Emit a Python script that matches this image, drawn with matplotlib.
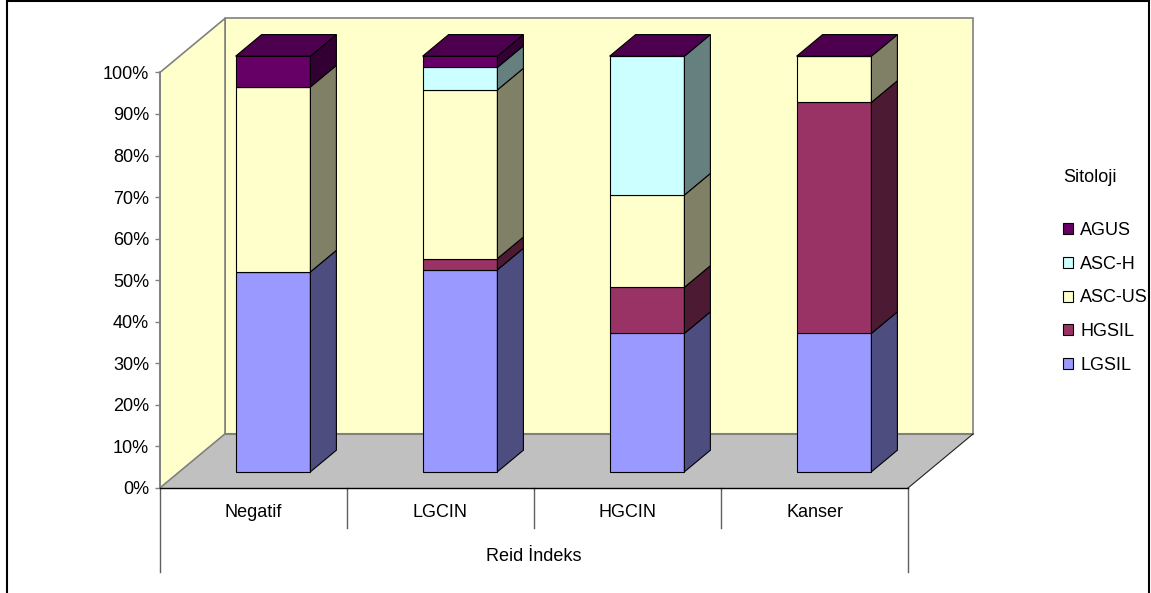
import numpy as np
import matplotlib
matplotlib.use('Agg')
import matplotlib.pyplot as plt
from matplotlib.patches import Polygon, Rectangle, Patch
from matplotlib.colors import to_rgb

plt.rcParams['font.family'] = ['Liberation Sans', 'DejaVu Sans']

categories = ['Negatif', 'LGCIN', 'HGCIN', 'Kanser']
series = ['LGSIL', 'HGSIL', 'ASC-US', 'ASC-H', 'AGUS']
# share of each cytology result (%) within every Reid index group
lgsil = [48.1, 48.6, 33.3, 33.3]
hgsil = [0.0, 2.7, 11.1, 55.6]
asc_us = [44.5, 40.6, 22.2, 11.1]
asc_h = [0.0, 5.4, 33.4, 0.0]
agus = [7.4, 2.7, 0.0, 0.0]
colors = ['#9999FF', '#993366', '#FFFFCC', '#CCFFFF', '#660066']
yticks = np.arange(0, 101, 10)

values = [lgsil, hgsil, asc_us, asc_h, agus]

W, H = 1151, 593
fig = plt.figure(figsize=(W / 100, H / 100), dpi=100)
ax = fig.add_axes([160 / W, (H - 488) / H, 748 / W, 415.6 / H])
ax.set_xlim(-0.5, len(categories) - 0.5)
ax.set_ylim(0, 100)
ax.patch.set_visible(False)

# oblique depth of the plot box, in data units
DX = 65 / 187
DY = 54 / 4.156
F0, BD, BW = 0.3, 0.4, 0.4   # bar front offset, bar depth, bar width


def proj(x, y, d):
    return (x + d * DX, y + d * DY)


def face(pts, fc, ec, lw=0.8, z=1):
    ax.add_patch(Polygon(pts, closed=True, facecolor=fc, edgecolor=ec,
                         lw=lw, clip_on=False, zorder=z, joinstyle='miter'))


x0, x1 = -0.5, len(categories) - 0.5
wall = '#FFFFCC'
edge = '#808080'
# back wall, side wall, floor
face([proj(x0, 0, 1), proj(x1, 0, 1), proj(x1, 100, 1), proj(x0, 100, 1)], wall, edge, 1.2)
face([proj(x0, 0, 0), proj(x0, 0, 1), proj(x0, 100, 1), proj(x0, 100, 0)], wall, edge, 1.2)
face([proj(x0, 0, 0), proj(x1, 0, 0), proj(x1, 0, 1), proj(x0, 0, 1)], '#C0C0C0', 'none')
ax.plot(*zip(proj(x0, 0, 1), proj(x1, 0, 1)), color=edge, lw=1.5, clip_on=False, zorder=1.5)
ax.plot(*zip(proj(x0, 0, 0), proj(x0, 0, 1)), color=edge, lw=1.0, clip_on=False, zorder=1.5)
ax.plot(*zip(proj(x1, 0, 0), proj(x1, 0, 1)), color='#202020', lw=0.8, clip_on=False, zorder=1.5)

xs = np.arange(len(categories))
bottom = np.zeros(len(categories))
for name, vals, c in zip(series, values, colors):
    vals = np.array(vals)
    rgb = np.array(to_rgb(c))
    ax.bar(xs + F0 * DX, vals, width=BW, bottom=bottom + F0 * DY, color=c,
           edgecolor='black', lw=0.8, clip_on=False, zorder=3)
    for x, b, v in zip(xs, bottom, vals):
        if v <= 0:
            continue
        xr = x + BW / 2
        face([proj(xr, b, F0), proj(xr, b + v, F0), proj(xr, b + v, F0 + BD),
              proj(xr, b, F0 + BD)], rgb * 0.5, 'black', z=3)
    bottom = bottom + vals

# top faces take the colour of the last series
top_rgb = np.array(to_rgb(colors[-1])) * 0.75
for x, t in zip(xs, bottom):
    xl, xr = x - BW / 2, x + BW / 2
    face([proj(xl, t, F0), proj(xr, t, F0), proj(xr, t, F0 + BD),
          proj(xl, t, F0 + BD)], top_rgb, 'black', z=3)

# axes
for s in ['top', 'right']:
    ax.spines[s].set_visible(False)
ax.spines['left'].set_color(edge)
ax.spines['left'].set_linewidth(1.2)
ax.spines['bottom'].set_color('black')
ax.spines['bottom'].set_linewidth(1.0)
ax.spines['left'].set_zorder(2)
ax.spines['bottom'].set_zorder(2)
ax.set_yticks(yticks)
ax.set_yticklabels([f'{v}%' for v in yticks])
ax.tick_params(axis='y', length=3.6, width=1, color=edge, pad=4.3, labelsize=13)
ax.set_xticks([])

tr = ax.get_xaxis_transform()
for i, cat in enumerate(categories):
    ax.text(i, -0.06, cat, transform=tr, ha='center', va='center', fontsize=13)
for b in np.arange(len(categories) + 1) - 0.5:
    low = -0.202 if b in (x0, x1) else -0.096
    ax.plot([b, b], [0, low], transform=tr, color='#606060', lw=1.0, clip_on=False)
ax.text(np.mean(xs), -0.166, 'Reid İndeks', transform=tr, ha='center', va='center', fontsize=13)

# legend, top series first
handles = [Patch(facecolor=c, edgecolor='black', lw=0.8) for c in colors[::-1]]
leg = fig.legend(handles, series[::-1], title='Sitoloji\n', loc='upper left',
                 bbox_to_anchor=(1054 / W, 1 - 160 / H), frameon=False,
                 fontsize=13, title_fontsize=13, borderpad=0, labelspacing=0.92,
                 handlelength=0.56, handleheight=0.56, handletextpad=0.4,
                 alignment='left')

# outer chart border
fig.add_artist(Rectangle((7 / W, -0.05), 1142 / W, (H - 1) / H + 0.05,
                         transform=fig.transFigure, fill=False, ec='black', lw=1.5))

fig.savefig('out.png', dpi=100)
